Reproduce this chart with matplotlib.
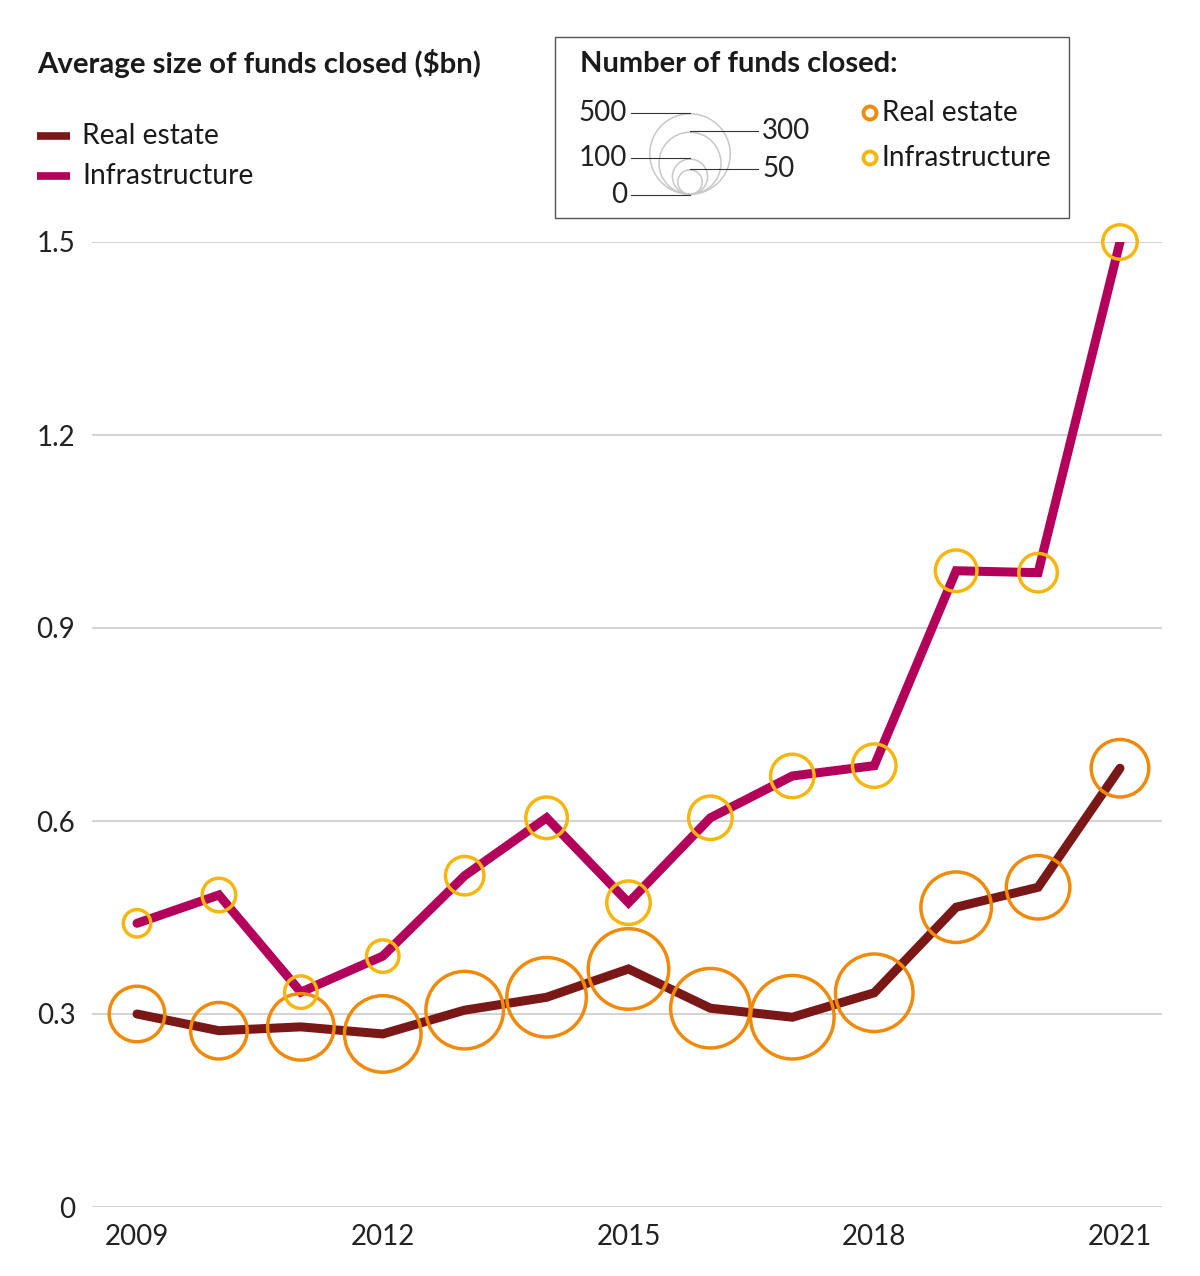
import numpy as np
import matplotlib.pyplot as plt

years = [2009, 2010, 2011, 2012, 2013, 2014, 2015, 2016, 2017, 2018, 2019, 2020, 2021]
# average size of funds closed ($bn)
real_estate_size = [0.300, 0.274, 0.280, 0.269, 0.306, 0.326, 0.370, 0.309, 0.295, 0.333, 0.466, 0.497, 0.682]
infra_size = [0.441, 0.485, 0.334, 0.390, 0.515, 0.605, 0.473, 0.605, 0.670, 0.686, 0.989, 0.986, 1.500]
# number of funds closed (bubble area)
real_estate_n = [259, 268, 364, 476, 488, 512, 525, 512, 563, 488, 407, 334, 277]
infra_n = [71, 102, 96, 96, 131, 151, 164, 164, 164, 164, 151, 131, 107]

xticks = [2009, 2012, 2015, 2018, 2021]
yticks = [0, 0.3, 0.6, 0.9, 1.2, 1.5]
ytick_labels = ["0", "0.3", "0.6", "0.9", "1.2", "1.5"]
legend_n = [500, 300, 100, 50]

c_re_line = "#7a1818"
c_inf_line = "#b3005a"
c_re_circ = "#ef8a0a"
c_inf_circ = "#f5b70f"

plt.rcParams['font.family'] = ['Lato', 'DejaVu Sans']

W, H = 1200, 1276
fig = plt.figure(figsize=(W / 100, H / 100), dpi=100)

PT = 72 / 100  # px -> pt
def bubble_s(n, lw_pt, dmax=82):
    d_px = dmax * np.sqrt(np.array(n) / 500.0) - lw_pt / PT
    return (d_px * PT) ** 2

ax = fig.add_axes([92 / W, 1 - 1207 / H, 1070 / W, (1207 - 242) / H])
x0 = 2009 - 45 / 81.9
x1 = 2021 + 42 / 81.9
ax.set_xlim(x0, x1)
ax.set_ylim(0, 1.5)
for s in ax.spines.values():
    s.set_visible(False)
ax.set_yticks(yticks)
ax.set_yticklabels(ytick_labels, fontsize=20, color="#222222")
ax.set_xticks(xticks)
ax.set_xticklabels([str(y) for y in xticks], fontsize=20, color="#222222")
ax.tick_params(axis='both', length=0)
ax.tick_params(axis='y', pad=12)
ax.tick_params(axis='x', pad=12)
ax.grid(axis='y', color="#d2d2d2", lw=1.4)
ax.set_axisbelow(True)

ax.plot(years, real_estate_size, color=c_re_line, lw=6.5, solid_capstyle='round', solid_joinstyle='miter', zorder=3)
ax.plot(years, infra_size, color=c_inf_line, lw=6.5, solid_capstyle='round', solid_joinstyle='miter', zorder=3)
ax.scatter(years, real_estate_size, s=bubble_s(real_estate_n, 2.5), facecolor='none',
           edgecolor=c_re_circ, lw=2.5, zorder=4, clip_on=False)
ax.scatter(years, infra_size, s=bubble_s(infra_n, 2.5), facecolor='none',
           edgecolor=c_inf_circ, lw=2.5, zorder=4, clip_on=False)

# overlay in pixel coords for titles and legends
ov = fig.add_axes([0, 0, 1, 1])
ov.set_xlim(0, W)
ov.set_ylim(H, 0)
ov.axis('off')

ov.text(37, 64, "Average size of funds closed ($bn)", fontsize=21.2, fontweight='bold',
        color="#1a1a1a", va='center', ha='left')
ov.plot([37, 70], [136, 136], color=c_re_line, lw=5.5, solid_capstyle='butt')
ov.plot([37, 70], [176, 176], color=c_inf_line, lw=5.5, solid_capstyle='butt')
ov.text(82, 136, "Real estate", fontsize=20.3, color="#1a1a1a", va='center')
ov.text(82, 176, "Infrastructure", fontsize=20.3, color="#1a1a1a", va='center')

# bubble legend box
ov.add_patch(plt.Rectangle((555, 37), 514, 181, facecolor='white', edgecolor="#555555", lw=1.0))
ov.text(580, 64, "Number of funds closed:", fontsize=21, fontweight='bold',
        color="#1a1a1a", va='center', ha='left')
cx, base = 690, 195
for n in legend_n:
    d = 82 * np.sqrt(n / 500.0)
    ov.scatter([cx], [base - d / 2], s=bubble_s([n], 1.1), facecolor='none',
               edgecolor="#c8c8c8", lw=1.1, zorder=3)
# leader lines and labels
left_labels = [("500", 500), ("100", 100), ("0", 0)]
right_labels = [("300", 300), ("50", 50)]
for lab, n in left_labels:
    y = base - 82 * np.sqrt(n / 500.0)
    ov.plot([631, cx], [y, y], color="#333333", lw=0.8, zorder=4)
    ov.text(627, y, lab, fontsize=20, color="#222222", ha='right', va='center')
for lab, n in right_labels:
    y = base - 82 * np.sqrt(n / 500.0)
    ov.plot([cx, 758], [y, y], color="#333333", lw=0.8, zorder=4)
    ov.text(762, y, lab, fontsize=20, color="#222222", ha='left', va='center')

ov.scatter([870], [113], s=(13 * PT) ** 2, facecolor='none', edgecolor=c_re_circ, lw=2.8)
ov.scatter([870], [158], s=(13 * PT) ** 2, facecolor='none', edgecolor=c_inf_circ, lw=2.8)
ov.text(882, 113, "Real estate", fontsize=20.2, color="#1a1a1a", va='center')
ov.text(882, 158, "Infrastructure", fontsize=20.2, color="#1a1a1a", va='center')

fig.savefig("out.png", dpi=100, facecolor='white')
